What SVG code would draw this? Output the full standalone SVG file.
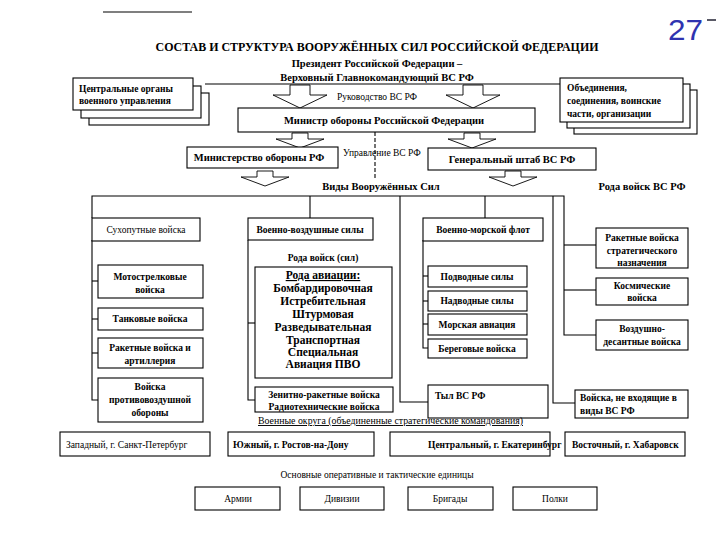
<svg xmlns="http://www.w3.org/2000/svg" width="720" height="540" viewBox="0 0 720 540">
<style>
.box{fill:#fff;stroke:#000;stroke-width:1.1}
.ln{fill:none;stroke:#000;stroke-width:1.1}
.ar{fill:#fff;stroke:#000;stroke-width:0.9}
.t{font-family:"Liberation Serif","DejaVu Serif",serif;font-size:9.5px;fill:#000}
.b{font-weight:bold}
.c{text-anchor:middle}
.l{font-size:10.5px}
.xl{font-size:11.5px}
</style>
<defs>
<path id="bigArrow" class="ar" d="M-10,0 L10,0 L10,10 L27,10 L0,23 L-27,10 L-10,10 Z"/>
<path id="smallArrow" class="ar" d="M-8,0 L8,0 L8,6 L24,6 L0,15 L-24,6 L-8,6 Z"/>
</defs>
<rect width="720" height="540" fill="#fff"/>
<line x1="103" y1="12" x2="192" y2="12" stroke="#000" stroke-width="1.2"/>
<text x="668" y="40" font-family="Liberation Sans, sans-serif" font-size="29" fill="#2f33b0" textLength="35" lengthAdjust="spacingAndGlyphs">27</text>
<line x1="707" y1="20" x2="716" y2="20" stroke="#223" stroke-width="1.5"/>
<text class="t b c" x="377" y="51" textLength="443" lengthAdjust="spacingAndGlyphs" style="font-size:12px">СОСТАВ И СТРУКТУРА ВООРУЖЁННЫХ СИЛ РОССИЙСКОЙ ФЕДЕРАЦИИ</text>

<g id="connectors">
<line class="ln" x1="205" y1="84" x2="560" y2="84"/>
<line class="ln" x1="375" y1="132" x2="375" y2="180" stroke-dasharray="4,2"/>
<use href="#bigArrow" x="300" y="85"/>
<use href="#bigArrow" x="473" y="85"/>
<use href="#smallArrow" x="300" y="133"/>
<use href="#smallArrow" x="472" y="133"/>
<use href="#smallArrow" x="265" y="171"/>
<use href="#smallArrow" x="513" y="171"/>
<polyline class="ln" points="92,218 92,196 564,196 564,335 596,335"/>
<line class="ln" x1="310" y1="196" x2="310" y2="218"/>
<line class="ln" x1="485" y1="196" x2="485" y2="218"/>
<line class="ln" x1="564" y1="245" x2="596" y2="245"/>
<line class="ln" x1="564" y1="290" x2="596" y2="290"/>
<polyline class="ln" points="553,196 553,403 575,403"/>
<polyline class="ln" points="400,196 400,402 428,402"/>
<polyline class="ln" points="92,240 92,400 98,400"/>
<line class="ln" x1="92" y1="281" x2="98" y2="281"/>
<line class="ln" x1="92" y1="319" x2="98" y2="319"/>
<line class="ln" x1="92" y1="353" x2="98" y2="353"/>
<polyline class="ln" points="248,240 248,400 255,400"/>
<line class="ln" x1="248" y1="323" x2="255" y2="323"/>
<polyline class="ln" points="423,240 423,348 428,348"/>
<line class="ln" x1="423" y1="276" x2="428" y2="276"/>
<line class="ln" x1="423" y1="301" x2="428" y2="301"/>
<line class="ln" x1="423" y1="324" x2="428" y2="324"/>
</g>

<g id="president">
<text class="t b c l" x="377" y="67">Президент Российской Федерации –</text>
<text class="t b c l" x="377" y="81">Верховный Главнокомандующий ВС РФ</text>
</g>
<g id="central-organs">
<rect class="box" x="89" y="93" width="120" height="32"/>
<rect class="box" x="81" y="86" width="120" height="32"/>
<rect class="box" x="73" y="78" width="120" height="32"/>
<text class="t b" x="79" y="92">Центральные органы</text>
<text class="t b" x="79" y="104">военного управления</text>
</g>
<g id="formations">
<rect class="box" x="574" y="90" width="123" height="44"/>
<rect class="box" x="567" y="84" width="123" height="44"/>
<rect class="box" x="560" y="78" width="123" height="44"/>
<text class="t b" x="567" y="91">Объединения,</text>
<text class="t b" x="567" y="104">соединения, воинские</text>
<text class="t b" x="567" y="117">части, организации</text>
</g>
<g id="leadership-label"><text class="t c" x="377" y="100">Руководство ВС РФ</text></g>
<g id="minister">
<rect class="box" x="238" y="108" width="297" height="24"/>
<text class="t b c l" x="384" y="124">Министр обороны Российской Федерации</text>
</g>
<g id="mod">
<rect class="box" x="187" y="147" width="151" height="21"/>
<text class="t b c l" x="259" y="161">Министерство обороны РФ</text>
</g>
<g id="control-label"><text class="t" x="343" y="156">Управление ВС РФ</text></g>
<g id="genstaff">
<rect class="box" x="428" y="148" width="168" height="22"/>
<text class="t b c l" x="512" y="163">Генеральный штаб ВС РФ</text>
</g>
<g id="branches-label"><text class="t b c l" x="381" y="190">Виды Вооружённых Сил</text></g>
<g id="arms-label"><text class="t b c l" x="642" y="190">Рода войск ВС РФ</text></g>

<g id="ground">
<rect class="box" x="92" y="218" width="108" height="23"/>
<text class="t c" x="146" y="233">Сухопутные войска</text>
</g>
<g id="motor-rifle">
<rect class="box" x="98" y="265" width="105" height="33"/>
<text class="t b c" x="150" y="280">Мотострелковые</text>
<text class="t b c" x="150" y="293">войска</text>
</g>
<g id="tank">
<rect class="box" x="98" y="308" width="105" height="22"/>
<text class="t b c" x="150" y="322">Танковые войска</text>
</g>
<g id="artillery">
<rect class="box" x="98" y="338" width="105" height="30"/>
<text class="t b c" x="150" y="351">Ракетные войска и</text>
<text class="t b c" x="150" y="364">артиллерия</text>
</g>
<g id="air-defence">
<rect class="box" x="98" y="378" width="105" height="44"/>
<text class="t b c" x="150" y="390">Войска</text>
<text class="t b c" x="150" y="403">противовоздушной</text>
<text class="t b c" x="150" y="416">обороны</text>
</g>

<g id="air-force">
<rect class="box" x="248" y="218" width="125" height="22"/>
<text class="t b c" x="310" y="233">Военно-воздушные силы</text>
</g>
<g id="air-arms-label"><text class="t b c" x="323" y="261">Рода войск (сил)</text></g>
<g id="aviation">
<rect class="box" x="255" y="267" width="137" height="111"/>
<text class="t b c xl" x="323" y="279" text-decoration="underline">Рода авиации:</text>
<text class="t b c xl" x="323" y="292">Бомбардировочная</text>
<text class="t b c xl" x="323" y="305">Истребительная</text>
<text class="t b c xl" x="323" y="318">Штурмовая</text>
<text class="t b c xl" x="323" y="331">Разведывательная</text>
<text class="t b c xl" x="323" y="344">Транспортная</text>
<text class="t b c xl" x="323" y="356">Специальная</text>
<text class="t b c xl" x="323" y="368">Авиация ПВО</text>
</g>
<g id="sam-radio">
<rect class="box" x="255" y="387" width="138" height="25"/>
<text class="t b c" x="324" y="398">Зенитно-ракетные войска</text>
<text class="t b c" x="324" y="410">Радиотехнические войска</text>
</g>

<g id="navy">
<rect class="box" x="423" y="218" width="120" height="23"/>
<text class="t b c" x="483" y="233">Военно-морской флот</text>
</g>
<g id="submarine">
<rect class="box" x="428" y="266" width="99" height="21"/>
<text class="t b c" x="477" y="280">Подводные силы</text>
</g>
<g id="surface">
<rect class="box" x="428" y="291" width="99" height="20"/>
<text class="t b c" x="477" y="304">Надводные силы</text>
</g>
<g id="naval-aviation">
<rect class="box" x="428" y="314" width="99" height="21"/>
<text class="t b c" x="477" y="328">Морская авиация</text>
</g>
<g id="coastal">
<rect class="box" x="428" y="339" width="99" height="19"/>
<text class="t b c" x="477" y="352">Береговые войска</text>
</g>
<g id="rear">
<rect class="box" x="428" y="385" width="120" height="33"/>
<text class="t b" x="435" y="399">Тыл ВС РФ</text>
</g>

<g id="strategic-missile">
<rect class="box" x="596" y="228" width="92" height="40"/>
<text class="t b c" x="642" y="241">Ракетные войска</text>
<text class="t b c" x="642" y="254">стратегического</text>
<text class="t b c" x="642" y="266">назначения</text>
</g>
<g id="space">
<rect class="box" x="596" y="278" width="92" height="27"/>
<text class="t b c" x="642" y="289">Космические</text>
<text class="t b c" x="642" y="301">войска</text>
</g>
<g id="airborne">
<rect class="box" x="596" y="320" width="92" height="30"/>
<text class="t b c" x="642" y="332">Воздушно-</text>
<text class="t b c" x="642" y="345">десантные войска</text>
</g>
<g id="other-troops">
<rect class="box" x="575" y="390" width="113" height="28"/>
<text class="t b" x="580" y="401">Войска, не входящие в</text>
<text class="t b" x="580" y="414">виды ВС РФ</text>
</g>

<g id="districts-label"><text class="t" x="258" y="424" text-decoration="underline" textLength="265" lengthAdjust="spacingAndGlyphs">Военные округа (объединенные стратегические командования)</text></g>
<g id="west">
<rect class="box" x="60" y="432" width="150" height="24"/>
<text class="t" x="66" y="448">Западный, г. Санкт-Петербург</text>
</g>
<g id="south">
<rect class="box" x="228" y="432" width="146" height="24"/>
<text class="t b" x="233" y="448">Южный, г. Ростов-на-Дону</text>
</g>
<g id="central">
<rect class="box" x="390" y="432" width="160" height="24"/>
<text class="t b" x="428" y="448">Центральный, г. Екатеринбург</text>
</g>
<g id="east">
<rect class="box" x="565" y="432" width="120" height="24"/>
<text class="t b" x="572" y="448">Восточный, г. Хабаровск</text>
</g>

<g id="units-label"><text class="t c" x="377" y="478">Основные оперативные и тактические единицы</text></g>
<g id="armies">
<rect class="box" x="195" y="487" width="85" height="23"/>
<text class="t c" x="238" y="502">Армии</text>
</g>
<g id="divisions">
<rect class="box" x="300" y="487" width="84" height="23"/>
<text class="t c" x="342" y="502">Дивизии</text>
</g>
<g id="brigades">
<rect class="box" x="408" y="487" width="85" height="23"/>
<text class="t c" x="450" y="502">Бригады</text>
</g>
<g id="regiments">
<rect class="box" x="513" y="487" width="84" height="23"/>
<text class="t c" x="555" y="502">Полки</text>
</g>
</svg>
